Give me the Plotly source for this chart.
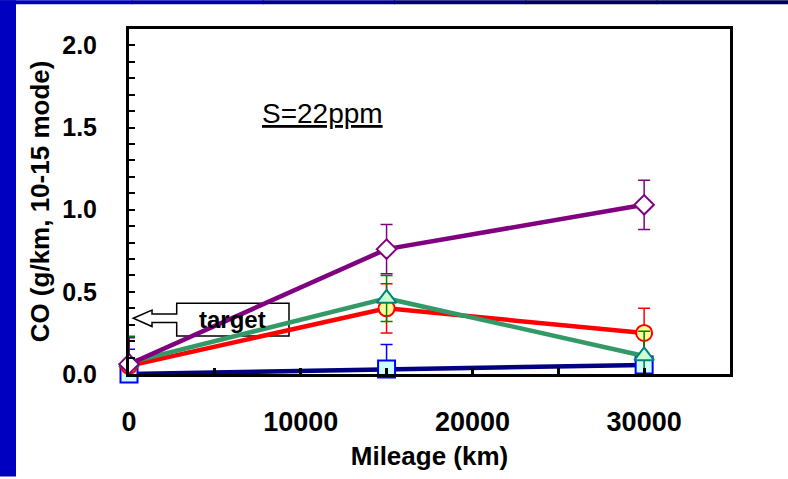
import plotly.graph_objects as go

# ---- data ----
mileage = [0, 15000, 30000]
co_diamond = [0.06, 0.76, 1.03]
err_diamond = [0.16, 0.15, 0.15]
co_triangle = [0.07, 0.46, 0.11]
err_triangle = [0.16, 0.14, 0.15]
co_circle = [0.05, 0.40, 0.25]
err_circle = [0.15, 0.15, 0.15]
co_square = [0.0, 0.03, 0.055]
err_square = [0.15, 0.15, 0.16]

x_ticks = [0, 10000, 20000, 30000]
y_ticks = [0.0, 0.5, 1.0, 1.5, 2.0]

FONT = "Liberation Sans, Arial, sans-serif"

fig = go.Figure()

def add_series(y, err, line_color, err_color, symbol, size, fill, mline):
    fig.add_trace(go.Scatter(
        x=mileage, y=y, mode="lines+markers",
        line=dict(color=line_color, width=4.5),
        marker=dict(symbol=symbol, size=size, color=fill,
                    line=dict(color=mline, width=2)),
        error_y=dict(type="data", array=err, visible=True,
                     color=err_color, thickness=1.5, width=6),
        cliponaxis=False, showlegend=False, hoverinfo="x+y"))

add_series(co_square, err_square, "#000080", "#0000ff", "square", 17, "#ccffff", "#0000ff")
add_series(co_circle, err_circle, "#ff0000", "#ff0000", "circle", 16, "#ffff99", "#ff0000")
add_series(co_triangle, err_triangle, "#339966", "#008000", "triangle-up", 17, "#ccffcc", "#008080")
add_series(co_diamond, err_diamond, "#800080", "#800080", "diamond", 15, "#ffffff", "#800080")

# slide frame (blue strips)
W, H = 788, 479
L, R, T, B = 129, 730, 29, 376
pw, ph = R - L, B - T
def px(xp):
    return (xp - L) / pw
def py(yp):
    return (B - yp) / ph
fig.add_shape(type="rect", xref="paper", yref="paper",
              x0=px(0), x1=px(16), y0=py(H), y1=py(0),
              fillcolor="#0000c0", line=dict(width=0), layer="below")
top_cols = ["#0000c0", "#0000a8", "#000090", "#00007a", "#000066", "#000058"]
seg = W / len(top_cols)
for i, c in enumerate(top_cols):
    fig.add_shape(type="rect", xref="paper", yref="paper",
                  x0=px(i * seg), x1=px((i + 1) * seg + 1), y0=py(4), y1=py(0),
                  fillcolor=c, line=dict(width=0), layer="below")

# clip region below the chart area (error bars are cut off there in the original)
fig.add_shape(type="rect", xref="paper", yref="paper",
              x0=px(100), x1=px(760), y0=py(400), y1=py(386.5),
              fillcolor="white", line=dict(width=0), layer="above")

# "target" callout arrow box (data coordinates)
tip = (250, 0.339)
hx = 1340
bx0, bx1 = 2778, 9318
by0, by1 = 0.232, 0.430
sh0, sh1 = 0.313, 0.365
hh0, hh1 = 0.289, 0.389
path = (f"M {tip[0]},{tip[1]} L {hx},{hh1} L {hx},{sh1} L {bx0},{sh1} "
        f"L {bx0},{by1} L {bx1},{by1} L {bx1},{by0} L {bx0},{by0} "
        f"L {bx0},{sh0} L {hx},{sh0} L {hx},{hh0} Z")
fig.add_shape(type="path", xref="x", yref="y", path=path,
              fillcolor="white", line=dict(color="black", width=1.5), layer="below")
fig.add_annotation(x=(bx0 + bx1) / 2, y=(by0 + by1) / 2, xref="x", yref="y",
                   text="target", showarrow=False,
                   font=dict(family=FONT, size=24, color="black", weight="bold"))

fig.add_annotation(x=px(260), y=py(96), xref="paper", yref="paper",
                   text="<u>S=22ppm</u>", showarrow=False,
                   font=dict(family=FONT, size=28, color="black"))

fig.update_xaxes(range=[0, 35000], tickmode="linear", tick0=x_ticks[0],
                 dtick=x_ticks[1] - x_ticks[0], tickformat="d",
                 ticks="inside", ticklen=6, tickwidth=3, tickcolor="black",
                 minor=dict(dtick=(x_ticks[1] - x_ticks[0]) / 2, tick0=0, ticks="inside",
                            ticklen=6, tickwidth=3, tickcolor="black"),
                 showline=True, linewidth=3, linecolor="black", mirror=True,
                 showgrid=False, zeroline=False,
                 tickfont=dict(family=FONT, size=27, color="black", weight="bold"),
                 ticklabelstandoff=22,
                 title=dict(text="Mileage (km)", standoff=11,
                            font=dict(family=FONT, size=26, color="black", weight="bold")))
fig.update_yaxes(range=[0, 2.1], tickmode="linear", tick0=y_ticks[0],
                 dtick=y_ticks[1] - y_ticks[0], tickformat=".1f",
                 ticks="inside", ticklen=6, tickwidth=2, tickcolor="black",
                 minor=dict(dtick=0.1, tick0=0, ticks="inside", ticklen=6,
                            tickwidth=2, tickcolor="black"),
                 showline=True, linewidth=3, linecolor="black", mirror=True,
                 showgrid=False, zeroline=False,
                 tickfont=dict(family=FONT, size=25, color="black", weight="bold"),
                 ticklabelstandoff=24,
                 title=dict(text="CO (g/km, 10-15 mode)", standoff=6,
                            font=dict(family=FONT, size=26, color="black", weight="bold")))

fig.update_layout(width=W, height=H, autosize=False,
                  margin=dict(l=L, r=W - R, t=T, b=H - B, pad=0),
                  paper_bgcolor="white", plot_bgcolor="white")

fig.write_html("out.html", config={"displayModeBar": False},
               post_script="document.body.style.margin='0';document.body.style.overflow='hidden';")
